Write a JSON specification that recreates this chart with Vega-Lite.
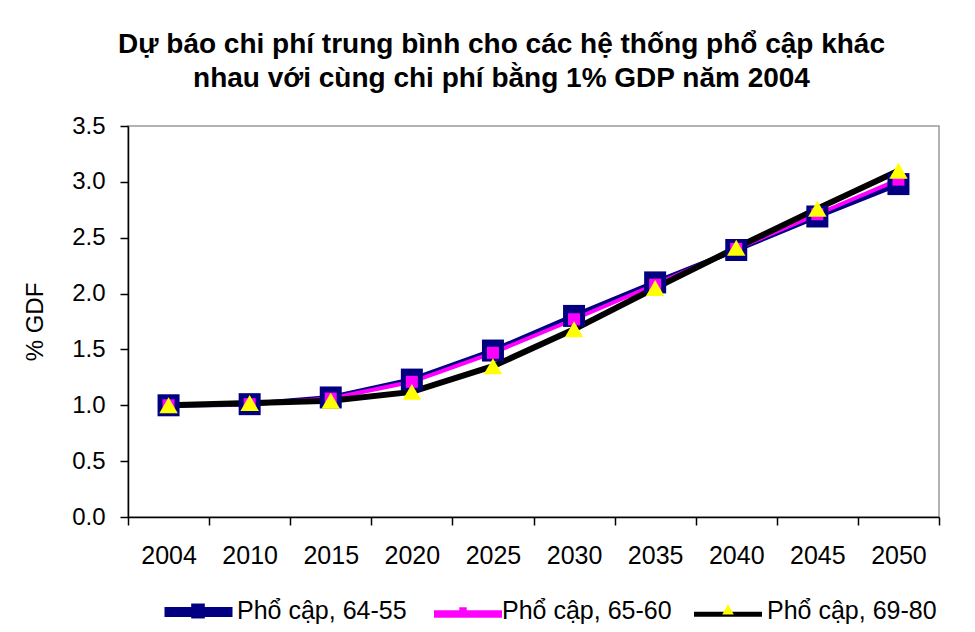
{
  "$schema": "https://vega.github.io/schema/vega-lite/v6.json",
  "width": 811,
  "height": 391,
  "autosize": {"type": "none"},
  "padding": {"left": 128, "top": 126, "right": 36, "bottom": 115},
  "background": "white",
  "config": {
    "font": "Liberation Sans",
    "view": {"stroke": "#9a9a9a", "strokeWidth": 1.5},
    "axis": {"domainColor": "#000000", "domainWidth": 1.5, "tickColor": "#000000", "tickWidth": 1.5, "labelColor": "#000000", "titleColor": "#000000", "labelFont": "Liberation Sans", "titleFont": "Liberation Sans", "grid": false}
  },
  "title": {
    "text": ["Dự báo chi phí trung bình cho các hệ thống phổ cập khác", "nhau với cùng chi phí bằng 1% GDP năm 2004"],
    "font": "Liberation Sans",
    "fontSize": 28,
    "fontWeight": "bold",
    "lineHeight": 34,
    "color": "#000000",
    "anchor": "middle",
    "dx": -32,
    "offset": 21
  },
  "data": {
    "values": [
      {"year": "2004", "series": "Phổ cập, 64-55", "value": 1.0},
      {"year": "2010", "series": "Phổ cập, 64-55", "value": 1.01},
      {"year": "2015", "series": "Phổ cập, 64-55", "value": 1.07},
      {"year": "2020", "series": "Phổ cập, 64-55", "value": 1.23},
      {"year": "2025", "series": "Phổ cập, 64-55", "value": 1.49},
      {"year": "2030", "series": "Phổ cập, 64-55", "value": 1.8},
      {"year": "2035", "series": "Phổ cập, 64-55", "value": 2.1},
      {"year": "2040", "series": "Phổ cập, 64-55", "value": 2.39},
      {"year": "2045", "series": "Phổ cập, 64-55", "value": 2.69},
      {"year": "2050", "series": "Phổ cập, 64-55", "value": 2.98},
      {"year": "2004", "series": "Phổ cập, 65-60", "value": 1.0},
      {"year": "2010", "series": "Phổ cập, 65-60", "value": 1.01},
      {"year": "2015", "series": "Phổ cập, 65-60", "value": 1.06},
      {"year": "2020", "series": "Phổ cập, 65-60", "value": 1.21},
      {"year": "2025", "series": "Phổ cập, 65-60", "value": 1.47},
      {"year": "2030", "series": "Phổ cập, 65-60", "value": 1.77},
      {"year": "2035", "series": "Phổ cập, 65-60", "value": 2.08},
      {"year": "2040", "series": "Phổ cập, 65-60", "value": 2.4},
      {"year": "2045", "series": "Phổ cập, 65-60", "value": 2.71},
      {"year": "2050", "series": "Phổ cập, 65-60", "value": 3.02},
      {"year": "2004", "series": "Phổ cập, 69-80", "value": 1.0},
      {"year": "2010", "series": "Phổ cập, 69-80", "value": 1.02},
      {"year": "2015", "series": "Phổ cập, 69-80", "value": 1.04},
      {"year": "2020", "series": "Phổ cập, 69-80", "value": 1.12},
      {"year": "2025", "series": "Phổ cập, 69-80", "value": 1.35},
      {"year": "2030", "series": "Phổ cập, 69-80", "value": 1.68},
      {"year": "2035", "series": "Phổ cập, 69-80", "value": 2.05},
      {"year": "2040", "series": "Phổ cập, 69-80", "value": 2.41},
      {"year": "2045", "series": "Phổ cập, 69-80", "value": 2.76},
      {"year": "2050", "series": "Phổ cập, 69-80", "value": 3.1}
    ]
  },
  "encoding": {
    "x": {
      "field": "year",
      "type": "ordinal",
      "scale": {"type": "band", "paddingInner": 0, "paddingOuter": 0},
      "axis": {"title": null, "labelAngle": 0, "labelFontSize": 25, "tickSize": 8, "tickBand": "extent", "labelPadding": 18}
    },
    "y": {
      "field": "value",
      "type": "quantitative",
      "scale": {"domain": [0, 3.5], "nice": false, "zero": true},
      "axis": {"title": "% GDF", "values": [0, 0.5, 1, 1.5, 2, 2.5, 3, 3.5], "format": ".1f", "labelFontSize": 24, "tickSize": 8, "labelPadding": 15, "titleFontSize": 24, "titleFontWeight": "normal", "titlePadding": 24}
    }
  },
  "layer": [
    {"transform": [{"filter": "datum.series === 'Phổ cập, 64-55'"}], "mark": {"type": "line", "color": "#000080", "strokeWidth": 5}},
    {"transform": [{"filter": "datum.series === 'Phổ cập, 65-60'"}], "mark": {"type": "line", "color": "#FF00FF", "strokeWidth": 4}},
    {"transform": [{"filter": "datum.series === 'Phổ cập, 69-80'"}], "mark": {"type": "line", "color": "#000000", "strokeWidth": 6}},
    {"transform": [{"filter": "datum.series === 'Phổ cập, 64-55'"}], "mark": {"type": "point", "shape": "square", "filled": true, "color": "#000080", "size": 484, "opacity": 1}},
    {"transform": [{"filter": "datum.series === 'Phổ cập, 65-60'"}], "mark": {"type": "point", "shape": "square", "filled": true, "color": "#FF00FF", "size": 144, "opacity": 1}},
    {"transform": [{"filter": "datum.series === 'Phổ cập, 69-80'"}], "mark": {"type": "point", "shape": "triangle-up", "filled": true, "color": "#FFFF00", "size": 340, "opacity": 1}},
    {
      "mark": {"type": "point", "filled": true, "opacity": 0},
      "encoding": {
        "stroke": {
          "field": "series",
          "type": "nominal",
          "scale": {"range": ["#000080", "#FF00FF", "#000000"]},
          "legend": {
            "orient": "none", "legendX": 31.5, "legendY": 447, "direction": "horizontal", "title": null,
            "symbolType": "M-1,0L1,0", "symbolSize": 4624, "symbolStrokeWidth": 9, "symbolOpacity": 1, "symbolFillColor": "transparent",
            "labelFontSize": 25, "labelExpr": "''", "labelOpacity": 0,
            "columnPadding": 166.5, "labelOffset": 5, "zindex": 1
          }
        },
        "strokeWidth": {
          "field": "series",
          "type": "nominal",
          "scale": {"range": [10, 5, 10]},
          "legend": {
            "orient": "none", "legendX": 31.5, "legendY": 447, "direction": "horizontal", "title": null,
            "symbolType": "M-1,0L1,0", "symbolSize": 4624, "symbolStrokeWidth": 9, "symbolOpacity": 1, "symbolFillColor": "transparent",
            "labelFontSize": 25, "labelExpr": "''", "labelOpacity": 0,
            "columnPadding": 166.5, "labelOffset": 5, "zindex": 1
          }
        },
        "fill": {
          "field": "series",
          "type": "nominal",
          "scale": {"domain": ["Phổ cập, 64-55", "Phổ cập, 65-60", "Phổ cập, 69-80"], "range": ["#000080", "#FF00FF", "#FFFF00"]},
          "legend": {
            "orient": "none", "legendX": 36, "legendY": 451, "direction": "horizontal", "title": null,
            "symbolSize": 4624, "symbolStrokeWidth": 0, "symbolOpacity": 1,
            "labelFontSize": 25, "labelFont": "Liberation Sans", "labelColor": "#000000", "labelLimit": 400,
            "columnPadding": 22, "labelOffset": 5, "zindex": 2
          }
        },
        "shape": {
          "field": "series",
          "type": "nominal",
          "scale": {"domain": ["Phổ cập, 64-55", "Phổ cập, 65-60", "Phổ cập, 69-80"], "range": ["M-0.2,-0.22L0.2,-0.22L0.2,0.22L-0.2,0.22Z", "M-0.11,-0.11L0.11,-0.11L0.11,0.11L-0.11,0.11Z", "M0,-0.2L0.17,0.1L-0.17,0.1Z"]},
          "legend": {
            "orient": "none", "legendX": 36, "legendY": 451, "direction": "horizontal", "title": null,
            "symbolSize": 4624, "symbolStrokeWidth": 0, "symbolOpacity": 1,
            "labelFontSize": 25, "labelFont": "Liberation Sans", "labelColor": "#000000", "labelLimit": 400,
            "columnPadding": 22, "labelOffset": 5, "zindex": 2
          }
        }
      }
    }
  ]
}
